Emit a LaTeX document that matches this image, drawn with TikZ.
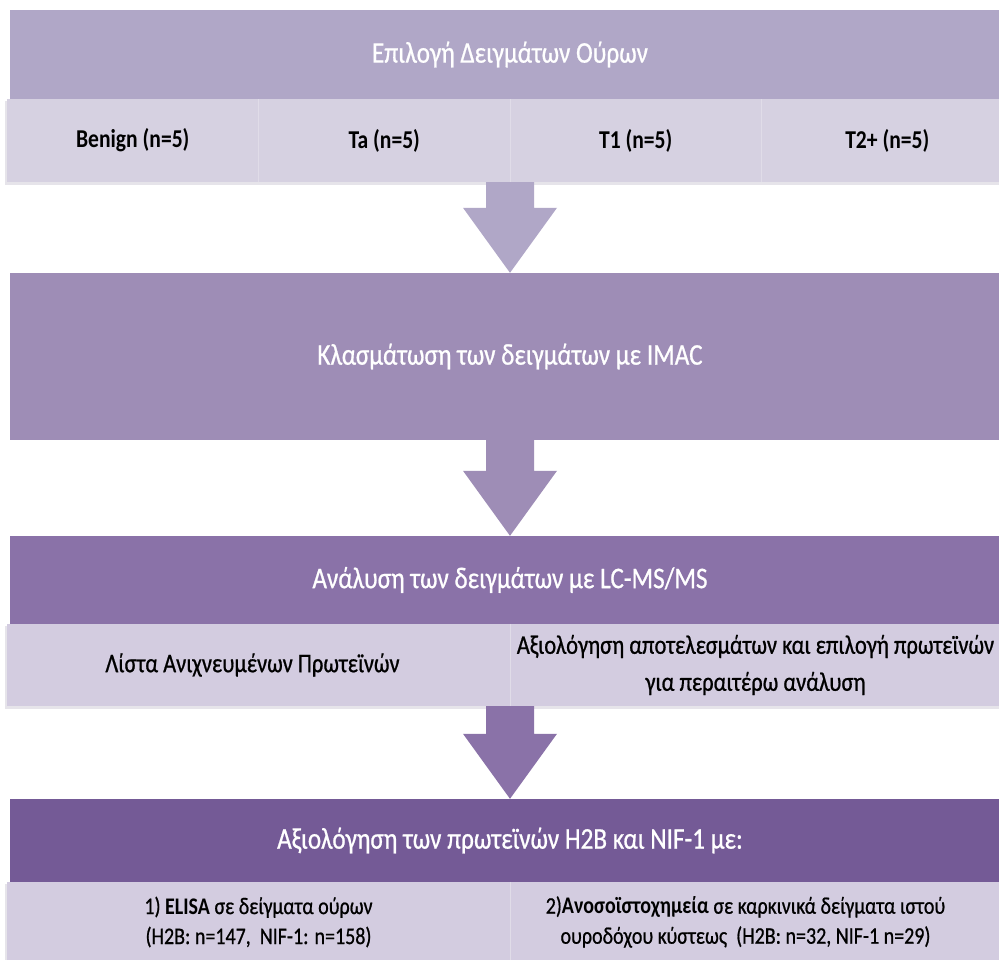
\documentclass[tikz,border=0pt]{standalone}
\usepackage{fontspec}
\setmainfont{Carlito}[FakeStretch=0.84, UprightFeatures={FakeBold=0.7}]
\usetikzlibrary{calc}
\definecolor{hdA}{HTML}{B0A7C7}
\definecolor{hdB}{HTML}{9E8DB6}
\definecolor{hdC}{HTML}{8A72A8}
\definecolor{hdD}{HTML}{745A96}
\definecolor{rowA}{HTML}{D6D1E1}
\definecolor{rowB}{HTML}{D3CCE0}
\definecolor{cellline}{HTML}{E0DCE8}
\definecolor{shade}{HTML}{E6E4EA}
\tikzset{
  header/.style={rectangle, inner sep=0pt, minimum width=1000pt, text=white,
    font=\fontsize{30}{34}\selectfont},
  cell/.style={rectangle, inner sep=0pt, text=black, align=center,
    font=\fontsize{24}{30}\selectfont},
  rowonecell/.style={cell, fill=rowA, minimum width=251.5pt, minimum height=83pt,
    font=\fontsize{25.7}{30}\selectfont\bfseries},
  rowthreecell/.style={cell, fill=rowB, minimum width=503pt, minimum height=82pt,
    font=\fontsize{26.8}{37}\selectfont},
  rowfourcell/.style={cell, fill=rowB, minimum width=503pt, minimum height=80pt,
    font=\fontsize{23.8}{30}\selectfont},
  celltext/.style={inner sep=0pt, align=center, text=black},
  divider/.style={draw=cellline, line width=0.8pt},
  rowshadow/.style={fill=shade},
}
\newcommand\flowarrow[3]{%
  \fill[#3] ($(#1)+(-24,0)$) -- ($(#1)+(24,0)$) -- ($(#2)+(24,-65)$)
    -- ($(#2)+(47,-65)$) -- (#2) -- ($(#2)+(-47,-65)$)
    -- ($(#2)+(-24,-65)$) -- cycle;}
\begin{document}
\begin{tikzpicture}[x=1pt,y=-1pt]
\useasboundingbox (0,0) rectangle (999,960);
\clip (0,0) rectangle (999,960);
\fill[white] (0,0) rectangle (999,960);

% ---- box 1
\node[header, fill=hdA, minimum height=89pt] (h1) at (510,54.5) {Επιλογή Δειγμάτων Ούρων};
\fill[rowshadow] (5,101) rectangle (1015,185);
\node[rowonecell] (r1a) at (132.75,140.5) {Benign (n=5)};
\node[rowonecell] (r1b) at (384.25,140.5) {Ta (n=5)};
\node[rowonecell] (r1c) at (635.75,140.5) {T1 (n=5)};
\node[rowonecell] (r1d) at (887.25,140.5) {T2+ (n=5)};
\draw[divider] (r1a.north east) -- (r1a.south east);
\draw[divider] (r1b.north east) -- (r1b.south east);
\draw[divider] (r1c.north east) -- (r1c.south east);

% ---- box 2
\node[header, fill=hdB, minimum height=167pt] (b2) at (510,356.5) {Κλασμάτωση των δειγμάτων με IMAC};

% ---- box 3
\node[header, fill=hdC, minimum height=88pt] (h3) at (510,580) {Ανάλυση των δειγμάτων με LC-MS/MS};
\fill[rowshadow] (5,626) rectangle (1015,709);
\node[rowthreecell] (r3a) at (258.5,665) {};
\node[celltext, font=\fontsize{26.8}{37}\selectfont] (r3at) at ($(r3a.center)+(-6,0)$) {Λίστα Ανιχνευμένων Πρωτεϊνών};
\node[rowthreecell] (r3b) at (761.5,665) {};
\node[celltext, font=\fontsize{26.8}{37}\selectfont] (r3bt) at ($(r3b.center)+(-6,0)$) {Αξιολόγηση αποτελεσμάτων και επιλογή πρωτεϊνών\\για περαιτέρω ανάλυση};
\draw[divider] (r3a.north east) -- (r3a.south east);

% ---- box 4
\node[header, fill=hdD, minimum height=83pt] (h4) at (510,840.5) {Αξιολόγηση των πρωτεϊνών H2B και NIF-1 με:};
\fill[rowshadow] (5,884) rectangle (1015,965);
\node[rowfourcell] (r4a) at (258.5,922) {1) \textbf{ELISA} σε δείγματα ούρων\\(H2B: n=147,~~NIF-1: n=158)};
\node[rowfourcell] (r4b) at (761.5,922) {};
\node[celltext, font=\fontsize{23.8}{30}\selectfont] (r4bt) at ($(r4b.center)+(-16,0)$) {2)\textbf{Ανοσοϊστοχημεία} σε καρκινικά δείγματα ιστού\\ουροδόχου κύστεως~~(H2B: n=32, NIF-1 n=29)};
\draw[divider] (r4a.north east) -- (r4a.south east);

% ---- arrows
\coordinate (a1) at (h1.center |- r1b.south);
\coordinate (a2) at (b2.south);
\coordinate (a3) at (h3.center |- r3a.south);
\flowarrow{a1}{b2.north}{hdA}
\flowarrow{a2}{h3.north}{hdB}
\flowarrow{a3}{h4.north}{hdC}
\end{tikzpicture}
\end{document}
